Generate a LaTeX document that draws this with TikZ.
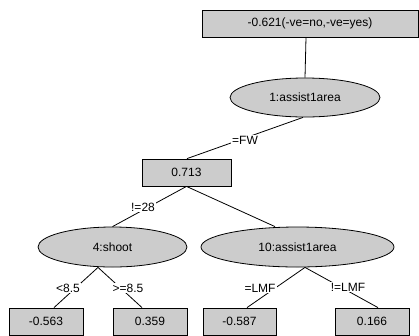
\documentclass[tikz,border=0pt]{standalone}
\usepackage{fontspec}
\setmainfont{Liberation Sans}
\usetikzlibrary{shapes.geometric}
\definecolor{nodegray}{HTML}{CCCCCC}
\begin{document}
\begin{tikzpicture}[x=1pt,y=-1pt,
  every node/.style={font=\fontsize{12}{14}\selectfont},
  box/.style={draw=black,fill=nodegray,line width=0.8pt,inner sep=0pt,minimum height=27pt},
  oval/.style={draw=black,fill=nodegray,line width=0.8pt,ellipse,inner sep=0pt,minimum height=40pt},
  edge/.style={draw=black,line width=0.8pt},
  elabel/.style={fill=white,inner sep=1pt}]
\useasboundingbox[fill=white] (0,0) rectangle (419,335);
\begin{scope}
\clip (0,0) rectangle (419,335);
% nodes
\node[box,minimum width=216pt] (root) at (310,23.5) {-0.621(-ve=no,-ve=yes)};
\node[oval,minimum width=150pt,minimum height=39pt] (e1) at (305,97.5) {1:assist1area};
\node[box,minimum width=89pt] (n713) at (186.5,172.5) {0.713};
\node[oval,minimum width=149pt] (e4) at (112.5,247) {4:shoot};
\node[oval,minimum width=193pt] (e10) at (297.5,247) {10:assist1area};
\node[box,minimum width=74pt] (l1) at (46,321.5) {-0.563};
\node[box,minimum width=74pt] (l2) at (150,321.5) {0.359};
\node[box,minimum width=73pt] (l3) at (239.5,321.5) {-0.587};
\node[box,minimum width=74pt] (l4) at (372,321.5) {0.166};
% edges
\draw[edge] ([xshift=-4pt]root.south) -- (e1.north);
\draw[edge] ([xshift=-2pt]e1.south) -- ([xshift=0.5pt]n713.north);
\draw[edge] (n713.south) -- (e4.north);
\draw[edge] (n713.south) -- ([xshift=-22.5pt]e10.north);
\draw[edge] ([xshift=-14.5pt]e4.south) -- ([xshift=8pt]l1.north);
\draw[edge] ([xshift=-14.5pt]e4.south) -- ([xshift=-8pt]l2.north);
\draw[edge] ([xshift=7.5pt]e10.south) -- ([xshift=7.5pt]l3.north);
\draw[edge] ([xshift=7.5pt]e10.south) -- ([xshift=6pt]l4.north);
% edge labels
\node[elabel] (t1) at (245,140) {=FW};
\node[elabel] (t2) at (143,207) {!=28};
\node[elabel] (t3) at (68,288) {<8.5};
\node[elabel] (t4) at (128,288) {>=8.5};
\node[elabel] (t5) at (260,288) {=LMF};
\node[elabel] (t6) at (348,287) {!=LMF};
\end{scope}
\end{tikzpicture}
\end{document}
